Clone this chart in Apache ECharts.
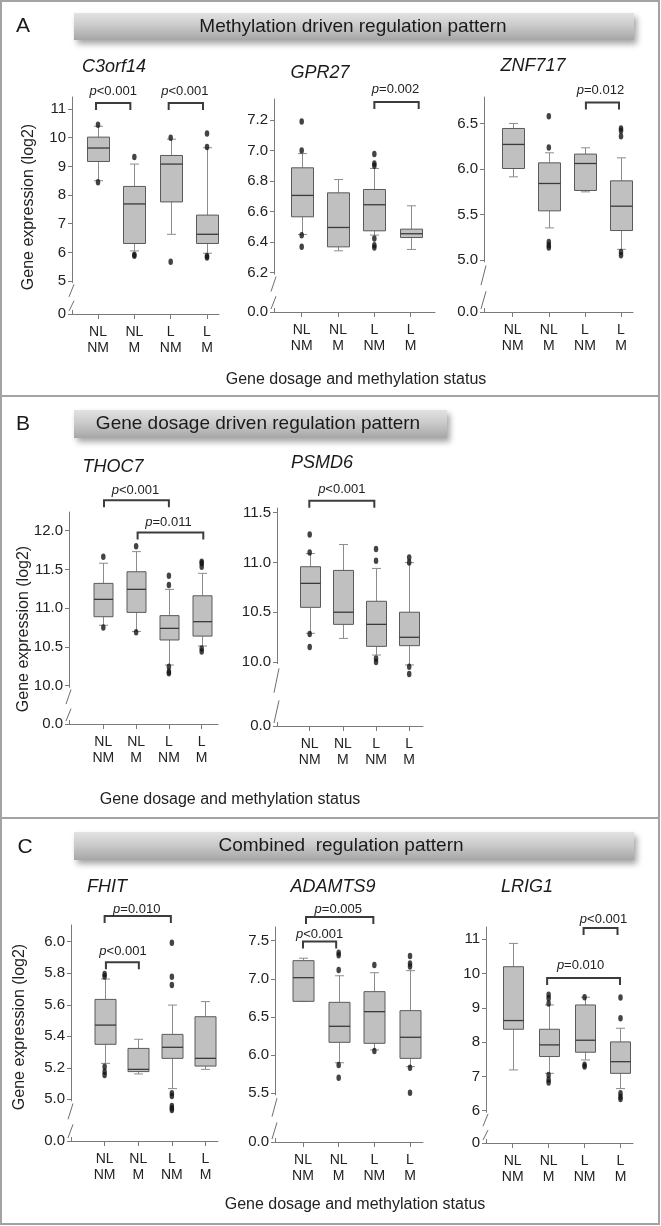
<!DOCTYPE html>
<html><head><meta charset="utf-8">
<script src="https://cdn.jsdelivr.net/npm/echarts@6/dist/echarts.min.js"></script>
<style>html,body{margin:0;padding:0;background:#fff}#c{width:661px;height:1226px}</style>
</head><body><div id="c"></div>
<script>
// ================= DATA =================
const categories = ['NL\nNM', 'NL\nM', 'L\nNM', 'L\nM'];
const genes = ['C3orf14', 'GPR27', 'ZNF717', 'THOC7', 'PSMD6', 'FHIT', 'ADAMTS9', 'LRIG1'];
const sectionTitles = ['Methylation driven regulation pattern', 'Gene dosage driven regulation pattern', 'Combined  regulation pattern'];
const sectionLetters = ['A', 'B', 'C'];
const yAxisTitle = 'Gene expression (log2)';
const xAxisTitle = 'Gene dosage and methylation status';

// box = [lower whisker, Q1, median, Q3, upper whisker] per category
const c3orf14Box = [[8.5, 9.17, 9.64, 10.02, 10.4], [6.05, 6.31, 7.69, 8.30, 9.08], [6.63, 7.76, 9.08, 9.38, 9.95], [5.97, 6.31, 6.63, 7.30, 9.65]];
const c3orf14Out = [[1, 10.45], [1, 8.45], [2, 9.33], [2, 5.92], [2, 5.88], [3, 10.0], [3, 5.67], [4, 10.15], [4, 9.68], [4, 5.87], [4, 5.82]];
const c3orf14YTicks = [5, 6, 7, 8, 9, 10, 11];
const c3orf14YLabels = ['0', '5', '6', '7', '8', '9', '10', '11'];
const c3orf14P = [[1, 2, '<0.001'], [3, 4, '<0.001']];

const gpr27Box = [[6.45, 6.566, 6.706, 6.887, 6.98], [6.343, 6.369, 6.496, 6.723, 6.81], [6.446, 6.474, 6.645, 6.745, 6.883], [6.352, 6.43, 6.455, 6.485, 6.638]];
const gpr27Out = [[1, 7.0], [1, 7.19], [1, 6.445], [1, 6.37], [3, 6.977], [3, 6.90], [3, 6.915], [3, 6.424], [3, 6.38], [3, 6.365]];
const gpr27YTicks = [6.2, 6.4, 6.6, 6.8, 7.0, 7.2];
const gpr27YLabels = ['0.0', '6.2', '6.4', '6.6', '6.8', '7.0', '7.2'];
const gpr27P = [[3, 4, '=0.002']];

const znf717Box = [[5.915, 6.006, 6.27, 6.445, 6.5], [5.355, 5.542, 5.842, 6.068, 6.178], [5.75, 5.765, 6.061, 6.164, 6.233], [5.12, 5.326, 5.593, 5.871, 6.123]];
const znf717Out = [[2, 6.237], [2, 6.58], [2, 5.20], [2, 5.165], [2, 5.14], [4, 6.445], [4, 6.42], [4, 6.36], [4, 5.09], [4, 5.055]];
const znf717YTicks = [5.0, 5.5, 6.0, 6.5];
const znf717YLabels = ['0.0', '5.0', '5.5', '6.0', '6.5'];
const znf717P = [[3, 4, '=0.012']];

const thoc7Box = [[10.78, 10.89, 11.114, 11.32, 11.58], [10.70, 10.946, 11.243, 11.47, 11.73], [10.267, 10.59, 10.74, 10.904, 11.243], [10.512, 10.64, 10.826, 11.16, 11.45]];
const thoc7Out = [[1, 11.665], [1, 10.75], [2, 11.80], [2, 10.69], [3, 11.42], [3, 11.30], [3, 10.246], [3, 10.18], [3, 10.16], [4, 11.6], [4, 11.58], [4, 11.535], [4, 10.48], [4, 10.44]];
const thoc7YTicks = [10.0, 10.5, 11.0, 11.5, 12.0];
const thoc7YLabels = ['0.0', '10.0', '10.5', '11.0', '11.5', '12.0'];
const thoc7P = [[1, 3, '<0.001'], [2, 4, '=0.011']];

const psmd6Box = [[10.288, 10.549, 10.79, 10.957, 11.09], [10.237, 10.378, 10.50, 10.92, 11.18], [10.07, 10.157, 10.378, 10.61, 10.94], [9.97, 10.164, 10.248, 10.50, 10.998]];
const psmd6Out = [[1, 11.28], [1, 11.1], [1, 10.28], [1, 10.15], [3, 11.135], [3, 11.018], [3, 10.036], [3, 10.0], [4, 11.05], [4, 11.0], [4, 9.953], [4, 9.88]];
const psmd6YTicks = [10.0, 10.5, 11.0, 11.5];
const psmd6YLabels = ['0.0', '10.0', '10.5', '11.0', '11.5'];
const psmd6P = [[1, 3, '<0.001']];

const fhitBox = [[5.228, 5.349, 5.471, 5.634, 5.763], [5.161, 5.176, 5.19, 5.323, 5.381], [5.068, 5.26, 5.33, 5.412, 5.598], [5.19, 5.211, 5.26, 5.524, 5.62]];
const fhitOut = [[1, 5.795], [1, 5.78], [1, 5.207], [1, 5.175], [1, 5.154], [3, 5.994], [3, 5.778], [3, 5.725], [3, 5.038], [3, 5.021], [3, 4.958], [3, 4.943], [3, 4.932]];
const fhitYTicks = [5.0, 5.2, 5.4, 5.6, 5.8, 6.0];
const fhitYLabels = ['0.0', '5.0', '5.2', '5.4', '5.6', '5.8', '6.0'];
const fhitP = [[1, 3, '=0.010'], [1, 2, '<0.001']];

const adamts9Box = [[6.705, 6.705, 7.015, 7.238, 7.27], [5.90, 6.168, 6.378, 6.692, 7.04], [6.068, 6.155, 6.57, 6.832, 7.08], [5.85, 5.958, 6.234, 6.583, 7.107]];
const adamts9Out = [[2, 7.116], [2, 7.343], [2, 7.31], [2, 5.87], [2, 5.705], [3, 7.18], [3, 6.055], [4, 7.30], [4, 7.20], [4, 7.16], [4, 5.836], [4, 5.508]];
const adamts9YTicks = [5.5, 6.0, 6.5, 7.0, 7.5];
const adamts9YLabels = ['0.0', '5.5', '6.0', '6.5', '7.0', '7.5'];
const adamts9P = [[1, 3, '=0.005'], [1, 2, '<0.001']];

const lrig1Box = [[7.19, 8.376, 8.63, 10.20, 10.88], [7.09, 7.58, 7.92, 8.376, 9.085], [7.48, 7.706, 8.056, 9.085, 9.31], [6.646, 7.09, 7.43, 8.007, 8.405]];
const lrig1Out = [[2, 9.38], [2, 9.28], [2, 9.13], [2, 7.04], [2, 6.90], [2, 6.82], [3, 9.31], [3, 7.34], [3, 7.29], [4, 9.30], [4, 8.70], [4, 6.51], [4, 6.41], [4, 6.34]];
const lrig1YTicks = [6, 7, 8, 9, 10, 11];
const lrig1YLabels = ['0', '6', '7', '8', '9', '10', '11'];
const lrig1P = [[3, 4, '<0.001'], [2, 4, '=0.010']];

// ================= LAYOUT (positions / sizes only) =================
// grid [left, top, width, height], x/y axis extents, box width,
// title centre, bracket tweaks [dx1, dx2, topFromGridTop, labelAbove, labelDx]
const layouts = [
  {grid: [72, 97, 147, 217], x: [0.284, 4.33], y: [3.85, 11.42], boxW: 22, title: [114, 67], br: [[-2, -4, 6, 12, 0], [-2, -4, 6, 12, -1]]},
  {grid: [274, 99, 161, 213], x: [0.238, 4.669], y: [5.942, 7.338], boxW: 22, title: [320, 73], br: [[0, 8, 3, 12.5, -1]]},
  {grid: [484, 97, 149, 215], x: [0.205, 4.332], y: [4.433, 6.79], boxW: 22, title: [533, 66], br: [[1, -2, 5.6, 12, -2]]},
  {grid: [69, 512, 149, 212], x: [-0.046, 4.497], y: [9.506, 12.241], boxW: 19, title: [113, 467], br: [[0.7, 0, -11.7, 10, -1], [1.5, 1.6, 20.6, 10.6, -2]]},
  {grid: [277, 508, 146, 218], x: [0.014, 4.416], y: [9.357, 11.547], boxW: 20, title: [322, 463], br: [[-0.4, -1.7, -7.3, 11, 0]]},
  {grid: [71, 925, 147, 216], x: [0.0, 4.372], y: [4.7356, 6.106], boxW: 21, title: [107, 887], br: [[0, -1, -9, 6.5, -1], [1.3, 0.6, 37.3, 10.6, 0.6]]},
  {grid: [275, 927, 148, 215], x: [0.215, 4.364], y: [4.862, 7.679], boxW: 21, title: [333, 887], br: [[3, -1, -10, 7.3, -1.4], [0, -2.5, 14.4, 6.7, 0]]},
  {grid: [486, 927, 147, 216], x: [0.257, 4.348], y: [5.058, 11.359], boxW: 20, title: [527, 887], br: [[-1, -3, 1, 8.3, 3], [-1.5, -0.5, 51, 12.3, -3]]}
];
const sectionLayout = [
  {letter: [23, 26], banner: [74, 13, 560, 27], text: [353, 27], yName: [29, 207], xName: [356, 380]},
  {letter: [23, 424], banner: [74, 410, 373, 28], text: [258, 424], yName: [24, 629], xName: [230, 800]},
  {letter: [25, 847], banner: [74, 832, 560, 28], text: [341, 846], yName: [20, 1027], xName: [355, 1205]}
];

const panels = [
  {box: c3orf14Box, out: c3orf14Out, ticks: c3orf14YTicks, labels: c3orf14YLabels, p: c3orf14P},
  {box: gpr27Box, out: gpr27Out, ticks: gpr27YTicks, labels: gpr27YLabels, p: gpr27P},
  {box: znf717Box, out: znf717Out, ticks: znf717YTicks, labels: znf717YLabels, p: znf717P},
  {box: thoc7Box, out: thoc7Out, ticks: thoc7YTicks, labels: thoc7YLabels, p: thoc7P},
  {box: psmd6Box, out: psmd6Out, ticks: psmd6YTicks, labels: psmd6YLabels, p: psmd6P},
  {box: fhitBox, out: fhitOut, ticks: fhitYTicks, labels: fhitYLabels, p: fhitP},
  {box: adamts9Box, out: adamts9Out, ticks: adamts9YTicks, labels: adamts9YLabels, p: adamts9P},
  {box: lrig1Box, out: lrig1Out, ticks: lrig1YTicks, labels: lrig1YLabels, p: lrig1P}
];

// ================= BUILD =================
const FONT = "'Liberation Sans', Arial, Helvetica, sans-serif";
const AX = '#7a7a7a';
const TXT = '#222222';
const option = {animation: false, backgroundColor: '#ffffff', grid: [], xAxis: [], yAxis: [], series: [], graphic: []};

panels.forEach((p, i) => {
  const L = layouts[i];
  const catPos = categories.map((c, k) => k + 1);
  const yVals = [L.y[0]].concat(p.ticks);
  option.grid.push({left: L.grid[0], top: L.grid[1], width: L.grid[2], height: L.grid[3], containLabel: false, outerBoundsMode: 'none'});
  option.xAxis.push({
    type: 'value', gridIndex: i, min: L.x[0], max: L.x[1], splitLine: {show: false},
    axisLine: {onZero: false, lineStyle: {color: AX, width: 1}},
    axisTick: {customValues: catPos, length: 5, lineStyle: {color: AX}},
    axisLabel: {customValues: catPos, formatter: v => categories[Math.round(v) - 1], fontSize: 14, lineHeight: 16,
      color: TXT, margin: 10, fontFamily: FONT, align: 'center'}
  });
  option.yAxis.push({
    type: 'value', gridIndex: i, min: L.y[0], max: L.y[1], splitLine: {show: false},
    axisLine: {onZero: false, lineStyle: {color: AX, width: 1}},
    axisTick: {customValues: yVals, length: 4, lineStyle: {color: AX}},
    axisLabel: {customValues: yVals, formatter: v => p.labels[yVals.findIndex(t => Math.abs(t - v) < 1e-6)],
      fontSize: 15, color: TXT, margin: 6, fontFamily: FONT}
  });
  // boxes
  option.series.push({
    type: 'custom', xAxisIndex: i, yAxisIndex: i, clip: false, z: 2,
    data: p.box.map((b, k) => [k + 1].concat(b)),
    encode: {x: 0, y: [1, 2, 3, 4, 5]},
    renderItem: (params, api) => {
      const xv = api.value(0);
      const ys = [1, 2, 3, 4, 5].map(d => api.coord([xv, api.value(d)])[1]);
      const cx = Math.round(api.coord([xv, api.value(1)])[0]) + 0.5;
      const [lo, q1, md, q3, hi] = ys;
      const h = L.boxW / 2, c = 4.5;
      const ws = {stroke: '#8c8c8c', lineWidth: 1};
      return {type: 'group', children: [
        {type: 'line', shape: {x1: cx, y1: q3, x2: cx, y2: hi}, style: ws},
        {type: 'line', shape: {x1: cx, y1: q1, x2: cx, y2: lo}, style: ws},
        {type: 'line', shape: {x1: cx - c, y1: hi, x2: cx + c, y2: hi}, style: ws},
        {type: 'line', shape: {x1: cx - c, y1: lo, x2: cx + c, y2: lo}, style: ws},
        {type: 'rect', shape: {x: cx - h, y: q3, width: L.boxW, height: q1 - q3}, style: {fill: '#c0c0c0', stroke: '#5a5a5a', lineWidth: 1}},
        {type: 'line', shape: {x1: cx - h, y1: md, x2: cx + h, y2: md}, style: {stroke: '#3a3a3a', lineWidth: 1.3}}
      ]};
    }
  });
  // outliers
  option.series.push({
    type: 'scatter', xAxisIndex: i, yAxisIndex: i, z: 3, symbol: 'circle', symbolSize: [4.5, 6.5],
    itemStyle: {color: '#151515'}, data: p.out
  });
  // significance brackets
  option.series.push({
    type: 'custom', xAxisIndex: i, yAxisIndex: i, clip: false, z: 4,
    data: p.p.map(b => [b[0], b[1], L.y[1]]),
    encode: {x: [0, 1], y: 2},
    renderItem: (params, api) => {
      const k = params.dataIndex;
      const t = L.br[k];
      const cs = params.coordSys;
      const x1 = api.coord([api.value(0), api.value(2)])[0] + t[0];
      const x2 = api.coord([api.value(1), api.value(2)])[0] + t[1];
      const top = cs.y + t[2];
      const leg = 7;
      return {type: 'group', children: [
        {type: 'polyline', shape: {points: [[x1, top + leg], [x1, top], [x2, top], [x2, top + leg]]},
          style: {stroke: '#3c3c3c', lineWidth: 2, fill: null}},
        {type: 'text', x: (x1 + x2) / 2 + t[4], y: top - t[3],
          style: {text: '{i|p}{n|' + p.p[k][2] + '}', align: 'center', verticalAlign: 'middle',
            textAlign: 'center', textVerticalAlign: 'middle', fill: TXT,
            rich: {i: {fontStyle: 'italic', fontSize: 13, fontFamily: FONT, fill: TXT},
                   n: {fontSize: 13, fontFamily: FONT, fill: TXT}}}}
      ]};
    }
  });
  // axis break marks
  option.series.push({
    type: 'custom', xAxisIndex: i, yAxisIndex: i, clip: false, z: 5,
    data: [[L.x[0], p.ticks[0]]],
    encode: {x: 0, y: 1},
    renderItem: (params, api) => {
      const cs = params.coordSys;
      const ax = cs.x, yBot = cs.y + cs.height;
      const yTop = api.coord([api.value(0), api.value(1)])[1];
      const G = yBot - yTop;
      const s = {stroke: '#6e6e6e', lineWidth: 1};
      return {type: 'group', children: [
        {type: 'rect', shape: {x: ax - 2, y: yTop + 2, width: 4, height: G - 6}, style: {fill: '#ffffff'}},
        {type: 'line', shape: {x1: ax - 3, y1: yTop + 0.48 * G, x2: ax + 2, y2: yTop + 0.1 * G}, style: s},
        {type: 'line', shape: {x1: ax - 3, y1: yBot - 3, x2: ax + 2, y2: yTop + 0.6 * G}, style: s}
      ]};
    }
  });
  // gene title
  option.graphic.push({type: 'text', x: L.title[0], y: L.title[1], z: 10,
    style: {text: genes[i], font: 'italic 18px ' + FONT, fill: '#1a1a1a', align: 'center', verticalAlign: 'middle', textAlign: 'center', textVerticalAlign: 'middle'}});
});

// frame & separators
option.graphic.push({type: 'rect', shape: {x: 1, y: 1, width: 658, height: 1223}, style: {fill: 'none', stroke: '#a3a3a3', lineWidth: 2}, z: 1});
option.graphic.push({type: 'line', shape: {x1: 0, y1: 396, x2: 660, y2: 396}, style: {stroke: '#a3a3a3', lineWidth: 2}, z: 1});
option.graphic.push({type: 'line', shape: {x1: 0, y1: 818, x2: 660, y2: 818}, style: {stroke: '#a3a3a3', lineWidth: 2}, z: 1});

sectionLayout.forEach((s, i) => {
  option.graphic.push({type: 'text', x: s.letter[0], y: s.letter[1], z: 10,
    style: {text: sectionLetters[i], font: '21px ' + FONT, fill: '#1a1a1a', align: 'center', verticalAlign: 'middle', textAlign: 'center', textVerticalAlign: 'middle'}});
  option.graphic.push({type: 'rect', z: 5, shape: {x: s.banner[0], y: s.banner[1], width: s.banner[2], height: s.banner[3]},
    style: {fill: new echarts.graphic.LinearGradient(0, 0, 0, 1, [
      {offset: 0, color: '#e2e2e2'}, {offset: 0.45, color: '#cbcbcb'}, {offset: 1, color: '#a6a6a6'}]),
      shadowBlur: 6, shadowOffsetX: 3, shadowOffsetY: 4, shadowColor: 'rgba(0,0,0,0.35)'}});
  option.graphic.push({type: 'text', x: s.text[0], y: s.text[1], z: 10,
    style: {text: sectionTitles[i], font: '19px ' + FONT, fill: '#1a1a1a', align: 'center', verticalAlign: 'middle', textAlign: 'center', textVerticalAlign: 'middle'}});
  option.graphic.push({type: 'text', x: s.yName[0], y: s.yName[1], rotation: Math.PI / 2, z: 10,
    style: {text: yAxisTitle, font: '16px ' + FONT, fill: TXT, align: 'center', verticalAlign: 'middle', textAlign: 'center', textVerticalAlign: 'middle'}});
  option.graphic.push({type: 'text', x: s.xName[0], y: s.xName[1], z: 10,
    style: {text: xAxisTitle, font: '16px ' + FONT, fill: TXT, align: 'center', verticalAlign: 'middle', textAlign: 'center', textVerticalAlign: 'middle'}});
});

const chart = echarts.init(document.getElementById('c'), null, {renderer: 'canvas', width: 661, height: 1226});
chart.setOption(option);
</script>
</body></html>
